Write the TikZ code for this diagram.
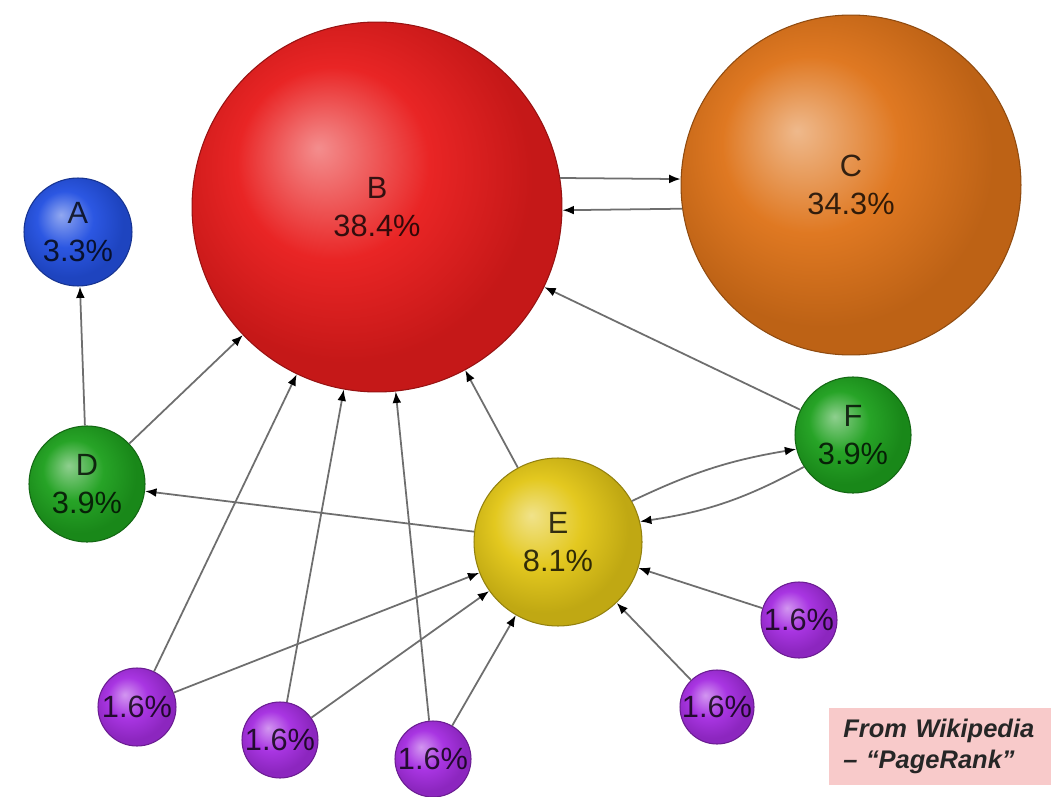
\documentclass[tikz,border=0pt]{standalone}
\usepackage{fontspec}
\setmainfont{Liberation Sans}
\usetikzlibrary{arrows.meta}

\definecolor{cA}{RGB}{35,80,225}
\definecolor{cB}{RGB}{232,28,28}
\definecolor{cC}{RGB}{222,115,25}
\definecolor{cG}{RGB}{30,160,30}
\definecolor{cE}{RGB}{226,198,22}
\definecolor{cP}{RGB}{165,45,225}
\definecolor{edgegray}{RGB}{110,110,110}
\definecolor{notepink}{RGB}{248,202,202}

\newcommand\declball[2]{\pgfdeclareradialshading{#1}{\pgfpoint{-8bp}{8bp}}{color(0bp)=(#2!50!white); color(13bp)=(#2!96!white); color(25bp)=(#2!85!black); color(50bp)=(#2!85!black)}}
\declball{shA}{cA}
\declball{shB}{cB}
\declball{shC}{cC}
\declball{shG}{cG}
\declball{shE}{cE}
\declball{shP}{cP}

\tikzset{
  sphere/.style n args={2}{circle, shading=#1, draw=#2!65!black, line width=0.6pt, inner sep=0pt},
  lbl/.style={font=\fontsize{17.5}{21.5}\selectfont, text=black, text opacity=0.78, align=center},
  edge/.style={draw=edgegray, line width=1pt, -{Latex[length=6.5pt,width=5pt,color=black]}},
  notebox/.style={fill=notepink, anchor=north west, inner xsep=0.28cm, inner ysep=0pt,
    text width=4.3cm, minimum height=1.54cm, align=left, text=black!85,
    font=\fontsize{14.5}{17.6}\selectfont\bfseries\itshape}
}

\begin{document}
\begin{tikzpicture}[x=0.02cm, y=-0.02cm]
\useasboundingbox (0,0) rectangle (1051,797);
\fill[white] (0,0) rectangle (1051,797);

\node[sphere={shA}{cA}, minimum size=2.16cm, label={[lbl]center:{A\\3.3\%}}] (A) at (78,232) {};
\node[sphere={shB}{cB}, minimum size=7.4cm, label={[lbl]center:{B\\38.4\%}}] (B) at (377,207) {};
\node[sphere={shC}{cC}, minimum size=6.8cm, label={[lbl]center:{C\\34.3\%}}] (C) at (851,185) {};
\node[sphere={shG}{cG}, minimum size=2.32cm, label={[lbl]center:{D\\3.9\%}}] (D) at (87,484) {};
\node[sphere={shE}{cE}, minimum size=3.36cm, label={[lbl]center:{E\\8.1\%}}] (E) at (558,542) {};
\node[sphere={shG}{cG}, minimum size=2.32cm, label={[lbl]center:{F\\3.9\%}}] (F) at (853,435) {};
\node[sphere={shP}{cP}, minimum size=1.56cm, label={[lbl]center:{1.6\%}}] (P1) at (137,707) {};
\node[sphere={shP}{cP}, minimum size=1.52cm, label={[lbl]center:{1.6\%}}] (P2) at (280,740) {};
\node[sphere={shP}{cP}, minimum size=1.52cm, label={[lbl]center:{1.6\%}}] (P3) at (433,759) {};
\node[sphere={shP}{cP}, minimum size=1.52cm, label={[lbl]center:{1.6\%}}] (P4) at (799,620) {};
\node[sphere={shP}{cP}, minimum size=1.48cm, label={[lbl]center:{1.6\%}}] (P5) at (717,707) {};

\draw[edge] (B.9) -- (C.178);
\draw[edge] (C.188.8) -- (B.-1.2);
\draw[edge] (D) -- (A);
\draw[edge] (D) -- (B);
\draw[edge] (E) -- (D);
\draw[edge] (E) -- (B);
\draw[edge] (F) -- (B);
\draw[edge] (E.29) to[bend left=8] (F.194);
\draw[edge] (F.213) to[bend left=10] (E.14);
\draw[edge] (P1) -- (B);
\draw[edge] (P1) -- (E);
\draw[edge] (P2) -- (B);
\draw[edge] (P2) -- (E);
\draw[edge] (P3) -- (B);
\draw[edge] (P3) -- (E);
\draw[edge] (P4) -- (E);
\draw[edge] (P5) -- (E);

\node[notebox] (note) at (829,708) {From Wikipedia\\– “PageRank”};
\end{tikzpicture}
\end{document}
